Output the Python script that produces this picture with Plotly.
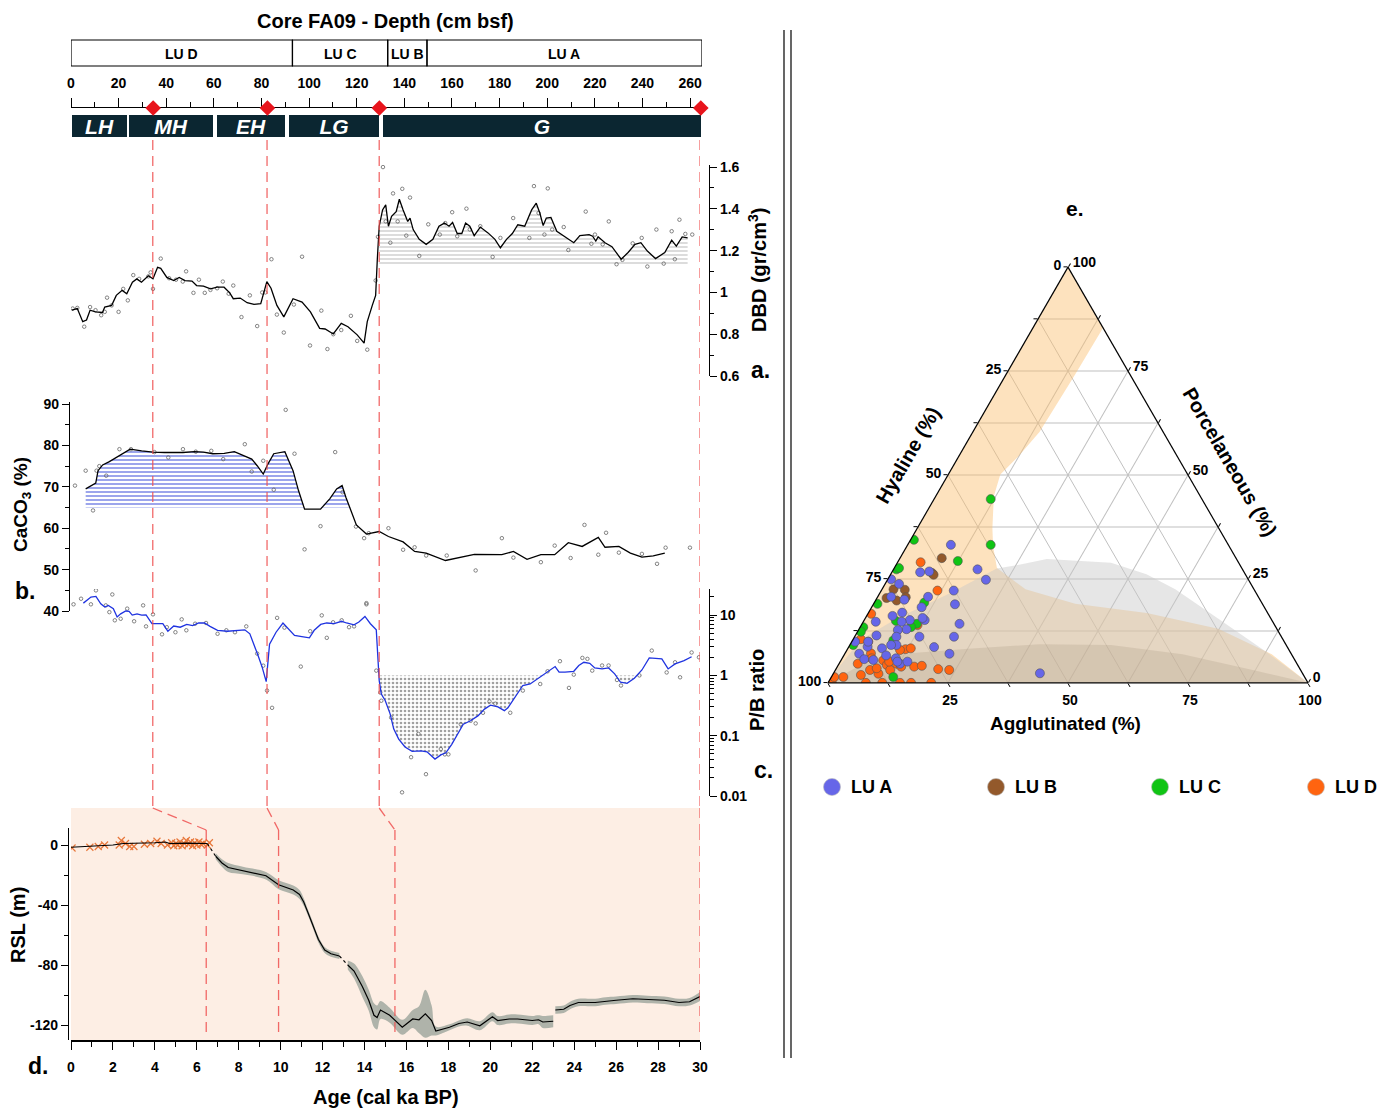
import plotly.graph_objects as go

# The page body has an 8 px margin; the figure is sized and laid out so that its
# elements land at the same window pixels as in the reference.
PAD = 8
W, H = 1388 - PAD, 1110 - PAD
FONT = "Liberation Sans"


def xp(p):
    return (p - PAD) / W


def yp(p):
    return 1 - (p - PAD) / H


# ---------------- header data ----------------
lu_names = ["LU D", "LU C", "LU B", "LU A"]
lu_edges = [0, 93, 133, 149.5, 265]
period_names = ["LH", "MH", "EH", "LG", "G"]
period_start = [0.5, 24.5, 61.5, 91.5, 131.0]
period_end = [23.5, 59.5, 90.0, 129.5, 264.5]
tie_depth = [34.5, 82.5, 129.5, 264.5]
tie_age_upper = [3.9, 9.35, 14.7, 30.0]
tie_age_lower = [6.45, 9.9, 15.45, 30.0]

# ---------------- panel a: DBD ----------------
dbd_age = [0.04, 0.30, 0.56, 0.74, 0.91, 1.17, 1.50, 1.61, 1.94, 2.16, 2.44, 2.66, 2.93, 3.14, 3.36, 3.69, 3.91, 4.13,
           4.28, 4.57, 4.90, 5.16, 5.44, 5.77, 5.99, 6.32, 6.65, 6.97, 7.30, 7.57, 7.74, 8.07, 8.40, 8.73, 9.05, 9.21,
           9.34, 9.54, 9.82, 10.15, 10.59, 11.02, 11.42, 11.86, 12.12, 12.51, 12.89, 13.21, 13.65, 13.98, 14.13, 14.37,
           14.53, 14.61, 14.70, 14.86, 15.01, 15.14, 15.29, 15.51, 15.66, 15.84, 16.06, 16.17, 16.32, 16.61, 16.94,
           17.26, 17.55, 17.81, 18.03, 18.20, 18.42, 18.64, 18.82, 19.02, 19.23, 19.52, 19.89, 20.22, 20.48, 20.77,
           21.05, 21.31, 21.64, 21.97, 22.19, 22.36, 22.52, 22.67, 22.89, 23.17, 23.50, 23.76, 23.98, 24.27, 24.71,
           24.88, 25.03, 25.14, 25.47, 25.80, 26.02, 26.24, 26.57, 26.90, 27.18, 27.49, 27.88, 28.32, 28.65, 28.87,
           29.15, 29.41]
dbd_val = [0.915, 0.923, 0.86, 0.868, 0.915, 0.907, 0.904, 0.93, 0.938, 0.986, 1.01, 0.994, 1.049, 1.065, 1.049, 1.08,
           1.065, 1.12, 1.115, 1.072, 1.057, 1.072, 1.057, 1.054, 1.033, 1.03, 1.017, 1.025, 1.025, 0.998, 0.97, 0.973,
           0.951, 0.943, 0.946, 1.0, 1.052, 1.02, 0.938, 0.883, 0.97, 0.954, 0.907, 0.828, 0.825, 0.801, 0.852, 0.836,
           0.797, 0.757, 0.86, 0.938, 0.986, 1.159, 1.317, 1.395, 1.419, 1.317, 1.364, 1.387, 1.446, 1.395, 1.34,
           1.356, 1.301, 1.254, 1.23, 1.254, 1.317, 1.332, 1.317, 1.335, 1.282, 1.282, 1.332, 1.317, 1.272, 1.313,
           1.285, 1.254, 1.214, 1.254, 1.282, 1.324, 1.317, 1.395, 1.427, 1.38, 1.32, 1.356, 1.359, 1.293, 1.269,
           1.254, 1.238, 1.272, 1.277, 1.269, 1.246, 1.266, 1.238, 1.219, 1.191, 1.159, 1.191, 1.23, 1.238, 1.198,
           1.162, 1.191, 1.25, 1.222, 1.266, 1.261]
dbd_pt_age = [0.08, 0.30, 0.63, 0.91, 1.17, 1.44, 1.61, 1.72, 1.94, 2.27, 2.49, 2.71, 2.97, 3.25, 3.69, 3.80, 3.91,
              4.28, 4.68, 5.01, 5.33, 5.49, 5.84, 6.10, 6.38, 6.65, 6.97, 7.24, 7.52, 7.74, 8.13, 8.53, 8.88, 9.12,
              9.27, 9.56, 9.82, 10.15, 10.63, 11.02, 11.40, 11.94, 12.23, 12.51, 12.89, 13.35, 13.65, 14.13, 14.53,
              14.64, 14.88, 15.01, 15.23, 15.36, 15.58, 15.80, 15.99, 16.17, 16.61, 17.04, 17.59, 17.85, 18.18, 18.42,
              18.86, 19.02, 19.52, 20.11, 20.48, 21.09, 21.86, 22.08, 22.30, 22.58, 22.74, 22.95, 23.50, 23.72, 24.55,
              24.82, 24.99, 25.36, 25.65, 26.02, 26.30, 26.79, 27.22, 27.49, 27.92, 28.27, 28.65, 28.80, 29.02, 29.30,
              29.63]
dbd_pt_val = [0.923, 0.926, 0.836, 0.93, 0.915, 0.891, 0.907, 0.975, 0.938, 0.907, 1.017, 0.962, 1.083, 1.065, 1.077,
              1.096, 1.017, 1.162, 1.068, 1.061, 1.052, 1.101, 0.998, 1.061, 0.998, 1.012, 1.02, 1.052, 0.994, 1.033,
              0.882, 0.986, 0.839, 1.0, 1.0, 1.159, 0.894, 0.808, 0.942, 1.171, 0.746, 0.913, 0.729, 0.8, 0.82, 0.888,
              0.768, 0.726, 1.057, 1.266, 1.6, 1.34, 1.238, 1.474, 1.34, 1.496, 1.272, 1.454, 1.175, 1.326, 1.277,
              1.332, 1.384, 1.269, 1.401, 1.301, 1.317, 1.17, 1.261, 1.356, 1.261, 1.509, 1.38, 1.277, 1.498, 1.301,
              1.313, 1.203, 1.387, 1.233, 1.277, 1.23, 1.34, 1.135, 1.156, 1.235, 1.261, 1.124, 1.301, 1.138, 1.293,
              1.159, 1.348, 1.28, 1.277]
dbd_hatch_base = 1.13
dbd_hatch_from = 14.7

# ---------------- panel b: CaCO3 ----------------
caco3_age = [0.70, 0.96, 1.18, 1.29, 1.51, 1.83, 2.31, 2.82, 3.37, 3.91, 4.46, 5.34, 5.88, 6.32, 6.76, 7.31, 7.79,
             8.18, 8.62, 8.88, 9.17, 9.39, 9.67, 10.20, 10.59, 10.85, 11.14, 11.90, 12.34, 12.67, 12.93, 13.11, 13.33,
             13.61, 14.09, 14.70, 15.14, 15.84, 16.39, 16.94, 17.86, 19.24, 20.55, 21.10, 21.75, 22.41, 23.07, 23.72,
             24.38, 25.15, 25.47, 26.13, 26.68, 27.23, 27.77, 28.32]
caco3_val = [69.5, 70.3, 70.9, 73.9, 75.3, 76.1, 77.5, 79.1, 78.7, 78.4, 78.3, 78.3, 78.5, 78.4, 78.0, 78.1, 78.5, 77.7,
             76.7, 75.1, 73.1, 75.5, 78.0, 78.5, 73.9, 69.1, 64.6, 64.6, 67.1, 69.5, 70.3, 67.5, 64.7, 60.8, 58.6,
             59.2, 58.0, 56.7, 54.4, 54.0, 52.2, 53.7, 53.6, 54.4, 52.5, 53.6, 53.6, 56.5, 55.6, 57.8, 55.4, 55.6,
             54.0, 53.0, 53.3, 54.0]
caco3_pt_age = [0.19, 0.70, 1.05, 1.22, 1.35, 1.68, 2.31, 2.86, 3.98, 4.64, 5.34, 5.95, 6.69, 7.26, 8.29, 8.62, 9.17,
                9.67, 10.24, 10.66, 11.14, 11.90, 12.60, 12.95, 13.59, 13.98, 14.20, 15.14, 15.84, 16.39, 16.94, 17.92,
                19.30, 20.55, 21.10, 22.41, 23.07, 23.83, 24.49, 25.15, 25.52, 26.13, 27.23, 27.95, 28.36, 29.52,
                14.09]
caco3_pt_val = [70.3, 73.9, 64.3, 73.9, 75.0, 72.7, 79.1, 79.1, 78.4, 77.1, 79.1, 78.5, 78.7, 76.7, 80.3, 73.7, 76.3,
                69.3, 88.6, 78.0, 54.9, 60.5, 78.4, 68.7, 60.4, 57.6, 58.8, 60.0, 54.8, 55.4, 53.4, 53.4, 49.8, 57.6,
                52.9, 51.8, 55.8, 52.8, 60.8, 53.6, 58.9, 54.1, 53.8, 51.4, 55.3, 55.3, 41.9]
caco3_hatch_base = 65.0
caco3_hatch_to = 13.33

# ---------------- panel c: P/B ----------------
pb_age = [0.59, 0.95, 1.19, 1.42, 1.61, 1.78, 2.02, 2.20, 2.37, 2.61, 2.77, 2.92, 3.15, 3.37, 3.58, 3.86, 4.38, 4.62,
          4.90, 5.21, 5.52, 5.80, 6.09, 6.37, 6.63, 6.99, 7.46, 7.93, 8.29, 8.53, 8.76, 8.93, 9.12, 9.31, 9.47, 9.78,
          10.11, 10.30, 10.66, 11.01, 11.37, 11.60, 11.91, 12.20, 12.55, 12.91, 13.14, 13.50, 13.73, 14.02, 14.28,
          14.56, 14.63, 14.70, 14.80, 14.99, 15.22, 15.39, 15.63, 15.93, 16.27, 16.69, 16.98, 17.36, 17.64, 17.88,
          18.16, 18.47, 18.71, 19.06, 19.42, 19.72, 20.01, 20.36, 20.67, 20.84, 21.19, 21.55, 21.90, 22.26, 22.61,
          22.90, 23.09, 23.28, 23.56, 23.98, 24.22, 24.46, 24.74, 24.98, 25.33, 25.64, 25.93, 26.21, 26.52, 26.87,
          27.23, 27.58, 28.18, 28.48, 28.81, 29.24, 29.60]
pb_val = [15.8, 19.9, 20.4, 15.4, 13.6, 14.5, 12.8, 9.3, 10.5, 11.7, 11.5, 10.0, 10.5, 10.0, 10.1, 7.2, 7.2, 5.4, 6.6,
          6.3, 7.0, 6.7, 7.4, 7.4, 6.5, 5.6, 5.4, 5.6, 5.7, 4.9, 3.1, 2.1, 1.36, 0.79, 3.3, 5.2, 7.4, 6.3, 4.6, 4.4,
          4.2, 5.6, 7.0, 7.4, 7.2, 7.9, 7.4, 6.9, 7.7, 9.5, 7.2, 5.7, 2.3, 0.82, 0.49, 0.38, 0.23, 0.13, 0.088, 0.065,
          0.055, 0.056, 0.054, 0.041, 0.048, 0.052, 0.072, 0.113, 0.155, 0.177, 0.215, 0.276, 0.32, 0.30, 0.26, 0.29,
          0.45, 0.68, 0.72, 0.88, 1.08, 1.28, 1.4, 1.13, 1.13, 1.17, 1.46, 1.65, 1.59, 1.33, 1.28, 1.33, 1.06, 0.77,
          0.74, 0.9, 1.23, 1.95, 1.88, 1.28, 1.55, 1.76, 2.04]
pb_pt_age = [0.12, 0.48, 0.95, 1.19, 1.66, 1.83, 1.97, 2.09, 2.37, 2.68, 3.01, 3.44, 3.58, 3.91, 4.34, 4.57, 4.98,
             5.28, 5.50, 5.92, 6.44, 6.99, 7.41, 7.82, 8.36, 8.88, 9.17, 9.35, 9.59, 9.83, 10.18, 10.96, 11.41, 11.96,
             12.20, 12.50, 12.91, 13.26, 13.50, 14.09, 14.56, 14.75, 14.80, 15.27, 15.79, 16.22, 16.57, 16.93, 17.64,
             17.83, 18.0, 18.59, 19.06, 19.30, 19.65, 19.96, 20.24, 20.95, 21.55, 22.38, 22.73, 23.32, 23.75, 23.98,
             24.39, 24.63, 24.86, 25.33, 25.64, 26.04, 26.23, 27.11, 27.70, 28.41, 28.81, 29.05, 29.60, 29.95]
pb_pt_val = [15.1, 18.7, 15.1, 25.7, 14.5, 11.2, 22, 8.2, 8.7, 12.8, 7.9, 14.5, 6.5, 10.3, 4.8, 6.3, 5.2, 8.5, 5.6,
             7.2, 7.4, 4.9, 5.6, 5.2, 6.5, 2.3, 1.45, 0.56, 0.29, 9.0, 6.2, 1.4, 5.4, 9.9, 4.2, 7.6, 8.2, 6.3, 6.5,
             15.1, 1.2, 0.52, 0.38, 0.2, 0.0115, 0.044, 0.107, 0.023, 0.06, 0.049, 0.049, 0.155, 0.177, 0.16, 0.24,
             0.37, 0.34, 0.24, 0.56, 0.72, 1.17, 1.72, 0.62, 1.03, 1.95, 1.88, 1.2, 1.46, 1.46, 0.84, 0.68, 1.0, 2.58,
             1.12, 1.65, 0.93, 2.4, 2.0]
pb_fill_ref = 1.0
pb_fill_from = 14.63

# ---------------- panel d: RSL ----------------
rsl_ticks = [-120, -80, -40, 0]
rsl_obs_age = [0.05, 0.9, 1.3, 1.6, 2.3, 2.4, 2.6, 2.8, 3.0, 3.5, 3.8, 4.1, 4.3, 4.6, 4.8, 4.9, 5.0, 5.1, 5.2, 5.3,
               5.4, 5.5, 5.6, 5.7, 5.8, 5.9, 6.0, 6.1, 6.2, 6.3, 6.5, 6.6]
rsl_obs_val = [-2, -1.5, -1, 0, 0, 3, 1, -1, -1, 0.5, 1, 2.5, 1, 0, 1.5, -0.5, 1, 0, 2, -0.5, 1, 3, 0.5, 2, -0.5, 1.5,
               0, 2, 0.5, 1, 0, 1.5]
rsl_holo_age = [0, 1, 2, 2.5, 3, 4, 4.5, 4.7, 5.5, 6.5]
rsl_holo_val = [-1.5, -1, 0, 1, 1, 1.5, 2, 1, 1.2, 1]
rsl_s2_age = [6.9, 7.2, 7.5, 8.2, 9.3, 9.9, 10.6, 10.9, 11.1, 11.3, 11.5, 11.8, 12.1, 12.4, 12.8]
rsl_s2_val = [-7.5, -12, -15, -17, -20.5, -26.5, -30, -33, -38, -45, -52, -63, -70, -72.5, -74]
rsl_s2_err = [2, 2.5, 3, 2.5, 2.5, 3, 3, 3, 2.5, 2, 2, 2, 2, 2, 2]
rsl_s3_age = [13.2, 13.5, 13.9, 14.2, 14.45, 14.6, 14.76, 15.2, 15.8, 16.3, 16.6, 16.9, 17.2, 17.4, 18.05, 18.5, 18.9,
              19.5, 20.1, 20.35, 20.9, 21.3, 22.0, 22.3, 22.5, 23.0]
rsl_s3_val = [-80, -84, -94.5, -103.5, -113.5, -115, -110, -113.5, -121.5, -116, -116.5, -112.5, -117, -124, -121.5,
              -119, -118, -120.5, -114.5, -117, -116, -116, -117, -116.5, -118, -117.5]
rsl_s3_err = [3, 5, 7, 7, 8, 8, 6, 5, 5, 6, 9, 16, 10, 3, 2, 2, 2.5, 3, 3, 3, 3, 3, 3, 3, 4, 4]
rsl_s4_age = [23.1, 23.5, 23.8, 24.2, 25.0, 25.5, 26.0, 26.8, 27.5, 28.3, 29.0, 29.5, 30.0]
rsl_s4_val = [-110, -109.5, -107, -105, -105, -104, -103.5, -102.5, -103, -103.5, -105, -104.5, -101]
rsl_s4_err = [2.5, 2.5, 2.5, 2.5, 2.5, 2.5, 2.5, 2.5, 2.5, 2.5, 2.5, 2.5, 3]

# ---------------- panel e: ternary (Porcelaneous %, Agglutinated %) ----------------
luA_porc = [33.2, 27.3, 24.8, 26.6, 26.8, 24.9, 23.8, 20.7, 20.0, 20.7, 18.2, 22.2, 18.9, 14.2, 11.1, 7.0, 8.6, 11.1,
            15.1, 15.6, 15.1, 16.9, 16.1, 14.7, 12.9, 12.7, 11.1, 9.1, 9.1, 14.7, 11.4, 9.9, 8.7, 7.0, 5.7, 5.5, 8.3,
            6.6, 5.9, 4.6, 5.1, 5.1, 2.3, 9.9]
luA_aggl = [9.0, 17.5, 20.5, 5.9, 7.7, 0.7, 2.9, 2.8, 5.9, 10.5, 10.4, 15.1, 17.0, 20.3, 20.7, 21.8, 17.8, 13.5, 12.6,
            11.9, 9.5, 7.0, 5.4, 8.0, 9.9, 8.2, 8.7, 9.7, 8.6, 2.6, 4.4, 0.7, 3.9, 3.0, 4.7, 6.7, 7.1, 8.8, 11.2, 12.7,
            14.0, 11.9, 43.0, 3.4]
luB_porc = [30.0, 26.4, 26.0, 22.5, 22.4, 20.4, 19.8, 20.6]
luB_aggl = [8.7, 8.5, 9.0, 2.4, 4.8, 2.0, 4.4, 5.9]
luC_porc = [44.2, 33.2, 29.3, 34.4, 27.3, 27.6, 19.0, 19.3, 14.9, 13.4, 12.3, 14.2, 13.4, 10.2, 9.1, 1.4]
luC_aggl = [11.8, 17.3, 12.4, 0.7, 0.6, 1.0, 0.8, 10.4, 6.7, 0.65, 0.7, 11.4, 10.6, 8.5, 0.7, 12.9]
luD_porc = [29.0, 22.2, 16.6, 13.9, 9.9, 7.1, 4.6, 3.1, 2.2, 1.9, 0, 0, 0, 0, 0, 0, 1.4, 1.4, 3.3, 3.1, 3.9, 4.1, 8.1,
            7.9, 8.3, 5.4, 4.3, 3.1, 4.6, 5.9, 3.5, 10.5, 5.1, 3.9]
luD_aggl = [4.8, 11.7, 0.7, 11.7, 3.45, 5.4, 3.9, 7.2, 9.4, 5.9, 7.9, 11.3, 15.0, 17.3, 21.5, 0.8, 0.6, 2.5, 21.3, 23.7,
            16.0, 17.5, 12.1, 11.05, 13.1, 8.8, 10.1, 11.4, 12.0, 6.15, 8.4, 1.6, 10.2, 13.3]

# shaded fields in the ternary (Porcelaneous %, Agglutinated %)
orange_reg_porc = [100, 0, 0, 6.9, 13.0, 16.8, 19.0, 22.5, 27.6, 32.8, 37.1, 44.9, 50.1, 54.4, 60.4, 74.3, 85.5, 100]
orange_reg_aggl = [0, 0, 100, 89.0, 74.8, 58.0, 42.0, 29.9, 21.4, 18.0, 15.7, 12.1, 10.85, 12.4, 13.9, 14.4, 14.6, 0]
grey_reg_porc = [27.5, 28.5, 29.8, 28.9, 26.1, 22.5, 15.5, 7.8, 0, 0, 3.5, 10.4, 15.5, 21.6, 27.5]
grey_reg_aggl = [21.4, 26.1, 30.7, 44.5, 53.3, 61.1, 73.5, 87.0, 100, 0, 0.3, 1.7, 6.6, 14.7, 21.4]
dark_reg_porc = [0, 4.3, 6.9, 8.2, 9.3, 9.1, 6.9, 3.0, 0, 0]
dark_reg_aggl = [0, 4.75, 10.9, 25.1, 39.4, 54.4, 70.4, 87.2, 100, 0]

lu_order = ["LU A", "LU B", "LU C", "LU D"]
lu_colors = ["#6666e8", "#93592b", "#10c414", "#ff6410"]
legend_key_px = [832, 996, 1160, 1316]   # layout: window x of the legend keys (pixels)

# ======================================================================
fig = go.Figure()

TICKF = dict(family=FONT, size=14, color="black", weight="bold")
RED = "rgba(238,80,80,0.85)"
PT = dict(symbol="circle-open", size=3.5, color="#666", line=dict(width=0.8))

# ---- header: period bars and tie points
fig.add_trace(go.Bar(
    y=[0] * len(period_names), base=period_start,
    x=[e - s for s, e in zip(period_start, period_end)], orientation="h",
    xaxis="x2", yaxis="y5", width=1, marker=dict(color="#0b2631", line=dict(width=0)),
    text=period_names, textposition="inside", insidetextanchor="middle", textangle=0,
    constraintext="none",
    textfont=dict(family=FONT, size=21, color="white", weight="bold", style="italic"),
    showlegend=False, hoverinfo="skip"))
fig.add_trace(go.Scatter(
    x=tie_depth, y=[0] * len(tie_depth), xaxis="x2", yaxis="y6", mode="markers",
    marker=dict(symbol="diamond", size=12, color="#e8141c"), cliponaxis=False,
    showlegend=False, hoverinfo="skip"))

# ---- panel a
a_hx = [x for x in dbd_age if x >= dbd_hatch_from]
a_hy = [v for x, v in zip(dbd_age, dbd_val) if x >= dbd_hatch_from]
fig.add_trace(go.Scatter(x=[a_hx[0], a_hx[-1]], y=[dbd_hatch_base] * 2, xaxis="x", yaxis="y",
                         mode="lines", line=dict(width=0), showlegend=False, hoverinfo="skip"))
fig.add_trace(go.Scatter(x=a_hx, y=a_hy, xaxis="x", yaxis="y", mode="lines", line=dict(width=0),
                         fill="tonexty", fillcolor="rgba(0,0,0,0)",
                         fillpattern=dict(shape="-", size=4, solidity=0.3, fgcolor="#8a8a8a",
                                          bgcolor="rgba(255,255,255,0)"),
                         showlegend=False, hoverinfo="skip"))
fig.add_trace(go.Scatter(x=dbd_pt_age, y=dbd_pt_val, xaxis="x", yaxis="y", mode="markers", marker=PT,
                         showlegend=False))
fig.add_trace(go.Scatter(x=dbd_age, y=dbd_val, xaxis="x", yaxis="y", mode="lines",
                         line=dict(color="black", width=1.3), showlegend=False))

# ---- panel b
b_hx = [x for x in caco3_age if x <= caco3_hatch_to]
b_hy = [max(v, caco3_hatch_base) for x, v in zip(caco3_age, caco3_val) if x <= caco3_hatch_to]
fig.add_trace(go.Scatter(x=[b_hx[0], b_hx[-1]], y=[caco3_hatch_base] * 2, xaxis="x", yaxis="y2",
                         mode="lines", line=dict(width=0), showlegend=False, hoverinfo="skip"))
fig.add_trace(go.Scatter(x=b_hx, y=b_hy, xaxis="x", yaxis="y2", mode="lines", line=dict(width=0),
                         fill="tonexty", fillcolor="rgba(0,0,0,0)",
                         fillpattern=dict(shape="-", size=4, solidity=0.45, fgcolor="#2236d6",
                                          bgcolor="rgba(255,255,255,0)"),
                         showlegend=False, hoverinfo="skip"))
fig.add_trace(go.Scatter(x=caco3_pt_age, y=caco3_pt_val, xaxis="x", yaxis="y2", mode="markers", marker=PT,
                         showlegend=False))
fig.add_trace(go.Scatter(x=caco3_age, y=caco3_val, xaxis="x", yaxis="y2", mode="lines",
                         line=dict(color="black", width=1.3), showlegend=False))

# ---- panel c
c_hx = [x for x in pb_age if x >= pb_fill_from]
c_hy = [min(v, pb_fill_ref) for x, v in zip(pb_age, pb_val) if x >= pb_fill_from]
fig.add_trace(go.Scatter(x=[c_hx[0], c_hx[-1]], y=[pb_fill_ref] * 2, xaxis="x", yaxis="y3",
                         mode="lines", line=dict(width=0), showlegend=False, hoverinfo="skip"))
fig.add_trace(go.Scatter(x=c_hx, y=c_hy, xaxis="x", yaxis="y3", mode="lines", line=dict(width=0),
                         fill="tonexty", fillcolor="rgba(0,0,0,0)",
                         fillpattern=dict(shape=".", size=4, solidity=0.35, fgcolor="#444",
                                          bgcolor="rgba(255,255,255,0)"),
                         showlegend=False, hoverinfo="skip"))
fig.add_trace(go.Scatter(x=pb_pt_age, y=pb_pt_val, xaxis="x", yaxis="y3", mode="markers", marker=PT,
                         showlegend=False))
fig.add_trace(go.Scatter(x=pb_age, y=pb_val, xaxis="x", yaxis="y3", mode="lines",
                         line=dict(color="#1f33e0", width=1.3), showlegend=False))

# ---- panel d
for ages, vals, errs in [(rsl_s2_age, rsl_s2_val, rsl_s2_err), (rsl_s3_age, rsl_s3_val, rsl_s3_err),
                         (rsl_s4_age, rsl_s4_val, rsl_s4_err)]:
    fig.add_trace(go.Scatter(x=ages, y=[v - e for v, e in zip(vals, errs)], xaxis="x", yaxis="y4",
                             mode="lines", line=dict(width=0, shape="spline"), showlegend=False,
                             hoverinfo="skip"))
    fig.add_trace(go.Scatter(x=ages, y=[v + e for v, e in zip(vals, errs)], xaxis="x", yaxis="y4",
                             mode="lines", line=dict(width=0, shape="spline"), fill="tonexty",
                             fillcolor="rgba(112,132,122,0.55)", showlegend=False, hoverinfo="skip"))
fig.add_trace(go.Scatter(x=rsl_obs_age, y=rsl_obs_val, xaxis="x", yaxis="y4", mode="markers",
                         marker=dict(symbol="x-thin", size=7, line=dict(color="#e8773a", width=1.2)),
                         showlegend=False))
for ages, vals in [(rsl_holo_age, rsl_holo_val), (rsl_s2_age, rsl_s2_val), (rsl_s3_age, rsl_s3_val),
                   (rsl_s4_age, rsl_s4_val)]:
    fig.add_trace(go.Scatter(x=ages, y=vals, xaxis="x", yaxis="y4", mode="lines",
                             line=dict(color="black", width=1.2), showlegend=False))
for (a0, v0), (a1, v1) in [((rsl_holo_age[-1], rsl_holo_val[-1]), (rsl_s2_age[0], rsl_s2_val[0])),
                           ((rsl_s2_age[-1], rsl_s2_val[-1]), (rsl_s3_age[0], rsl_s3_val[0]))]:
    fig.add_trace(go.Scatter(x=[a0, a1], y=[v0, v1], xaxis="x", yaxis="y4", mode="lines",
                             line=dict(color="black", width=1.2, dash="dot"), showlegend=False))

# ---- panel e: ternary
for rp, ra, col in [(orange_reg_porc, orange_reg_aggl, "rgba(250,190,110,0.45)"),
                    (grey_reg_porc, grey_reg_aggl, "rgba(200,200,200,0.45)"),
                    (dark_reg_porc, dark_reg_aggl, "rgba(160,140,120,0.22)")]:
    fig.add_trace(go.Scatterternary(a=rp, c=ra, b=[100 - p - q for p, q in zip(rp, ra)], mode="lines",
                                    line=dict(width=0), fill="toself", fillcolor=col,
                                    showlegend=False, hoverinfo="skip"))
lu_data = {"LU A": (luA_porc, luA_aggl), "LU B": (luB_porc, luB_aggl),
           "LU C": (luC_porc, luC_aggl), "LU D": (luD_porc, luD_aggl)}
for name in ["LU D", "LU B", "LU C", "LU A"]:
    pp, aa = lu_data[name]
    fig.add_trace(go.Scatterternary(a=pp, c=aa, b=[100 - p - q for p, q in zip(pp, aa)], mode="markers",
                                    marker=dict(size=9, color=lu_colors[lu_order.index(name)],
                                                line=dict(color="#555", width=0.6)),
                                    name=name, showlegend=False))

# legend keys (drawn on a hidden pixel-scaled axis)
fig.add_trace(go.Scatter(x=legend_key_px, y=[0] * len(legend_key_px), xaxis="x3", yaxis="y7", mode="markers",
                         marker=dict(size=17, color=lu_colors, line=dict(color="#bbb", width=0.6)),
                         cliponaxis=False, showlegend=False, hoverinfo="skip"))

tern_ticks = [0, 12.5, 25, 37.5, 50, 62.5, 75, 87.5, 100]
tern_text = [("%d" % (100 - t)) if t % 25 == 0 else "" for t in tern_ticks]
tern_axis = dict(title=dict(text=""), tickmode="array", tickvals=tern_ticks, ticktext=tern_text,
                 ticks="outside", ticklen=4, tickcolor="black", linecolor="black", linewidth=1.2,
                 showline=True, showgrid=True, gridcolor="#c0c0c0", gridwidth=0.8,
                 tickfont=dict(family=FONT, size=14, color="black", weight="bold"))

# ---- shapes
shapes = []
for i in range(len(lu_names)):
    shapes.append(dict(type="rect", xref="x2", yref="paper", x0=lu_edges[i], x1=lu_edges[i + 1],
                       y0=yp(66), y1=yp(40), line=dict(color="black", width=1.2)))
for au, al in zip(tie_age_upper, tie_age_lower):
    shapes.append(dict(type="line", xref="x", yref="paper", x0=au, x1=au, y0=yp(140), y1=yp(808),
                       line=dict(color=RED, width=1.3, dash="10px,6px")))
    shapes.append(dict(type="line", xref="x", yref="paper", x0=au, x1=al, y0=yp(808), y1=yp(830),
                       line=dict(color=RED, width=1.3, dash="10px,6px")))
    shapes.append(dict(type="line", xref="x", yref="paper", x0=al, x1=al, y0=yp(830), y1=yp(1036),
                       line=dict(color=RED, width=1.3, dash="10px,6px")))
shapes.append(dict(type="rect", xref="x domain", yref="paper", x0=0, x1=1, y0=yp(1040), y1=yp(808),
                   fillcolor="#fdeee4", line=dict(width=0), layer="below"))
for xx in [784, 791]:
    shapes.append(dict(type="line", xref="paper", yref="paper", x0=xp(xx), x1=xp(xx), y0=yp(30), y1=yp(1058),
                       line=dict(color="black", width=1.2)))

# ---- annotations
ann = []


def text(x, y, s, size=17, angle=0, color="black", xanchor="center"):
    ann.append(dict(x=xp(x), y=yp(y), xref="paper", yref="paper", text=s, showarrow=False,
                    textangle=angle, xanchor=xanchor, yanchor="middle",
                    font=dict(family=FONT, size=size, color=color)))


text(386, 21, "<b>Core FA09 - Depth (cm bsf)</b>", 20)
for i, nm in enumerate(lu_names):
    ann.append(dict(x=(lu_edges[i] + lu_edges[i + 1]) / 2, y=yp(54), xref="x2", yref="paper",
                    xanchor="center", yanchor="middle",
                    text="<b>%s</b>" % nm, showarrow=False, font=dict(family=FONT, size=14, color="black")))
text(757, 270, "<b>DBD (gr/cm<sup>3</sup>)</b>", 20, -90)
text(760, 370, "<b>a.</b>", 23)
text(22, 505, "<b>CaCO<sub>3</sub> (%)</b>", 19, -90)
text(25, 591, "<b>b.</b>", 23)
text(757, 690, "<b>P/B ratio</b>", 20, -90)
text(763, 770, "<b>c.</b>", 23)
text(18, 925, "<b>RSL (m)</b>", 20, -90)
text(38, 1066, "<b>d.</b>", 23)
text(386, 1097, "<b>Age (cal ka BP)</b>", 20)
text(1075, 208, "<b>e.</b>", 21)
text(908, 455, "<b>Hyaline (%)</b>", 20, -60)
text(1230, 462, "<b>Porcelaneous (%)</b>", 20, 60)
text(1065, 723, "<b>Agglutinated (%)</b>", 19)
for kx, nm in zip(legend_key_px, lu_order):
    text(kx + 17, 787, "<b>%s</b>" % nm, 18, 0, "black", "left")

common_y = dict(showgrid=False, zeroline=False, showline=True, linecolor="black", linewidth=1.2,
                ticks="outside", tickcolor="black", tickwidth=1.2, tickfont=TICKF)

fig.update_layout(
    width=W, height=H, autosize=False, margin=dict(l=0, r=0, t=0, b=0, autoexpand=False),
    paper_bgcolor="white", plot_bgcolor="rgba(0,0,0,0)", bargap=0, showlegend=False,
    font=dict(family=FONT, color="black"),
    shapes=shapes, annotations=ann,
    xaxis=dict(domain=[xp(71), xp(700)], range=[0, 30], anchor="y4", showgrid=False, zeroline=False,
               showline=True, linecolor="black", linewidth=1.5, ticks="outside", ticklen=8, tickwidth=1.2,
               tickcolor="black", dtick=2, tick0=0, tickfont=TICKF, ticklabelstandoff=5,
               minor=dict(ticks="outside", dtick=1, ticklen=5, tickcolor="black", tickwidth=1.2)),
    xaxis2=dict(domain=[xp(71), xp(702)], range=[0, 265], anchor="free", position=yp(107), side="top",
                showgrid=False, zeroline=False, showline=True, linecolor="black", linewidth=1.2,
                ticks="outside", ticklen=9, tickwidth=1.2, tickcolor="black", dtick=20, tick0=0,
                tickfont=TICKF, ticklabelstandoff=4,
                minor=dict(ticks="outside", dtick=10, ticklen=5, tickcolor="black", tickwidth=1.2)),
    xaxis3=dict(domain=[xp(800), xp(1388)], range=[800, 1388], anchor="y7", visible=False, fixedrange=True),
    yaxis=dict(domain=[yp(376), yp(165)], range=[0.6, 1.61], anchor="free", position=xp(709), side="right",
               dtick=0.2, tick0=0.6, ticklen=7,
               minor=dict(ticks="outside", dtick=0.1, ticklen=4, tickcolor="black", tickwidth=1.2),
               **common_y),
    yaxis2=dict(domain=[yp(611), yp(402)], range=[40, 90.5], anchor="free", position=xp(69), side="left",
                dtick=10, tick0=40, ticklen=7,
                minor=dict(ticks="outside", dtick=5, ticklen=4, tickcolor="black", tickwidth=1.2),
                **common_y),
    yaxis3=dict(domain=[yp(796), yp(589)], type="log", range=[-2, 1.433], anchor="free", position=xp(709),
                side="right", dtick=1, ticklen=7,
                minor=dict(ticks="outside", dtick="D1", ticklen=4, tickcolor="black", tickwidth=1.0),
                **common_y),
    yaxis4=dict(domain=[yp(1040), yp(828)], range=[-130, 11.33], anchor="free", position=xp(68), side="left",
                tickmode="array", tickvals=rsl_ticks, ticktext=["%d" % t for t in rsl_ticks], ticklen=7,
                minor=dict(ticks="outside", dtick=20, tick0=0, ticklen=4, tickcolor="black", tickwidth=1.2),
                **common_y),
    yaxis5=dict(domain=[yp(137), yp(115)], range=[-0.5, 0.5], anchor="x2", visible=False, fixedrange=True),
    yaxis6=dict(domain=[yp(113), yp(103)], range=[-1, 1], anchor="x2", visible=False, fixedrange=True),
    yaxis7=dict(domain=[yp(797), yp(777)], range=[-1, 1], anchor="x3", visible=False, fixedrange=True),
    ternary=dict(domain=dict(x=[xp(828), xp(1308)], y=[yp(683), yp(267)]), sum=100,
                 bgcolor="rgba(0,0,0,0)", aaxis=tern_axis, baxis=tern_axis, caxis=tern_axis),
)

fig.write_html("out.html")
